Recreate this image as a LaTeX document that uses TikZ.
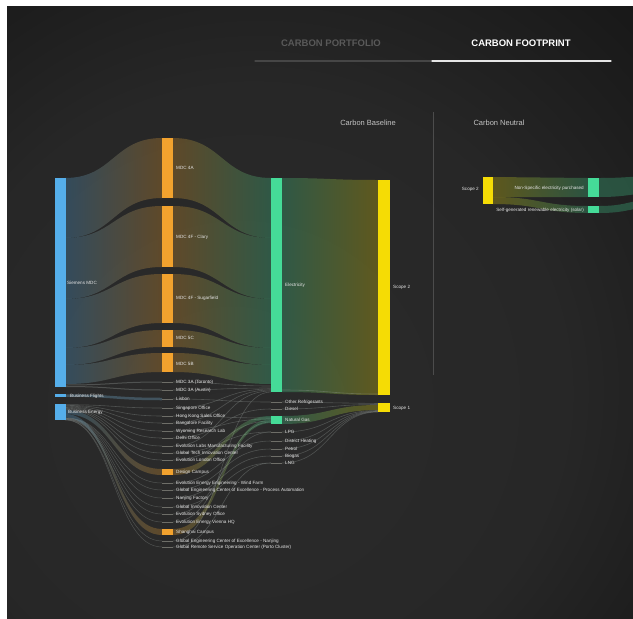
\documentclass[tikz,border=0pt]{standalone}
\usepackage{fontspec}
\setmainfont{Liberation Sans}
\definecolor{bgmid}{HTML}{2B2B2B}
\definecolor{bgdark}{HTML}{101010}
\definecolor{cblue}{HTML}{55AEEA}
\definecolor{corange}{HTML}{F2A22E}
\definecolor{cgreen}{HTML}{45DB98}
\definecolor{cyellow}{HTML}{F5DC05}
\definecolor{labc}{HTML}{E6E6E6}
\definecolor{lnc}{HTML}{A0A8A4}
\definecolor{tickc}{HTML}{6E6E68}
\pgfdeclareradialshading{vign}{\pgfpoint{-8bp}{-10bp}}{color(0bp)=(bgmid); color(25bp)=(bgmid!85!bgdark); color(50bp)=(bgdark); color(75bp)=(bgdark)}
\newcommand\sband[8]{%
 \pgfmathsetmacro\xm{(#1+#4)/2}%
 \shade[left color=#7,right color=#8,fill opacity=0.27] (#1,#2) .. controls (\xm,#2) and (\xm,#5) .. (#4,#5) -- (#4,#6) .. controls (\xm,#6) and (\xm,#3) .. (#1,#3) -- cycle;}
\newcommand\sline[6]{%
 \pgfmathsetmacro\xm{(#1+#3)/2}%
 \draw[#5,line width=#6,opacity=0.32] (#1,#2) .. controls (\xm,#2) and (\xm,#4) .. (#3,#4);}
\begin{document}
\begin{tikzpicture}[x=1pt,y=-1pt,
  bar/.style={draw=none,inner sep=0pt,outer sep=0pt,minimum width=11pt},
  lbl/.style={text=labc,font=\fontsize{4.6}{5.5}\selectfont,inner sep=0pt,anchor=west},
  tickbar/.style={draw=none,fill=tickc,inner sep=0pt,outer sep=0pt,minimum width=11pt,minimum height=1pt},
  hdr/.style={inner sep=0pt,font=\fontsize{9.5}{11}\selectfont\bfseries},
  ttl/.style={inner sep=0pt,text=labc!85!black,font=\fontsize{7.5}{9}\selectfont}]
\useasboundingbox (0,0) rectangle (633,619);
\fill[white] (0,0) rectangle (633,619);
\begin{scope}
\clip (7,6) rectangle (633,619);
\shade[shading=vign] (7,6) rectangle (633,619);

% header
\node[hdr,text=gray!70!black] (tport) at (331,43) {CARBON PORTFOLIO};
\node[hdr,text=white] (tfoot) at (521,43) {CARBON FOOTPRINT};
\coordinate (hl0) at (255,61); \coordinate (hl1) at (432,61); \coordinate (hl2) at (611,61);
\draw[gray!55!black,line width=1.3,line cap=round] (hl0) -- (hl1);
\draw[white!80!gray,line width=1.3,line cap=round] (hl1) -- (hl2);
\node[ttl] (tbase) at (368,123) {Carbon Baseline};
\node[ttl] (tneut) at (499,123) {Carbon Neutral};
\coordinate (sep0) at (433,112); \coordinate (sep1) at (433,375);
\draw[white!25!bgdark,line width=1] (sep0) -- (sep1);

% ---------- bands blue -> orange
\sband{65}{178}{238}{162}{138}{198}{cblue}{corange}
\sband{65}{238}{299}{162}{206}{267}{cblue}{corange}
\sband{65}{299}{348}{162}{274}{323}{cblue}{corange}
\sband{65}{348}{365}{162}{330}{347}{cblue}{corange}
\sband{65}{365}{384}{162}{353}{372}{cblue}{corange}
% orange -> green
\sband{173}{138}{198}{271}{178}{238}{corange}{cgreen}
\sband{173}{206}{267}{271}{238}{299}{corange}{cgreen}
\sband{173}{274}{323}{271}{299}{348}{corange}{cgreen}
\sband{173}{330}{347}{271}{348}{365}{corange}{cgreen}
\sband{173}{353}{372}{271}{365}{384}{corange}{cgreen}
% green -> yellow
\sband{282}{178}{392}{378}{180}{395}{cgreen}{cyellow}
% small flows
\sline{65}{385}{162}{382}{lnc}{1}
\sline{65}{386.5}{162}{390}{lnc}{1}
\sline{65}{395.5}{162}{399}{cblue!60!lnc}{2.5}
\foreach \ry [count=\k] in {408,416,423,431,438,446,453,460}
  {\sline{65}{404+\k*0.7}{162}{\ry}{lnc}{0.6}}
\foreach \ry [count=\k] in {483,490,498,507,514,522,541,547}
  {\sline{65}{417.6+\k*0.3}{162}{\ry}{lnc}{0.5}}
\sband{65}{410}{414}{162}{469}{475}{cblue}{corange}
\sband{65}{414}{417.5}{162}{529}{535}{cblue}{corange}
\foreach \ry/\gy in {382/386,390/388,399/402,408/389,416/418,423/390,431/419,438/409,446/391,453/432,460/421,483/441,490/449,498/456,507/463,514/432,522/422,541/392,547/463}
  {\sline{173}{\ry}{271}{\gy}{lnc}{0.6}}
\sband{173}{469}{475}{271}{416}{419.5}{corange}{cgreen}
\sband{173}{529}{535}{271}{419.5}{423}{corange}{cgreen}
\foreach \gy/\sy in {402/403.5,409/404.5,432/410.5,441/411,449/411.4,456/411.7,463/412}
  {\sline{282}{\gy}{378}{\sy}{lnc}{0.6}}
\sband{282}{416}{424}{378}{405}{410}{cgreen}{cyellow}
\sline{282}{390}{378}{394}{lnc}{0.6}

% right part
\sband{493}{177}{197}{588}{178}{197}{cyellow}{cgreen}
\sband{493}{197}{204}{588}{206}{213}{cyellow}{cgreen}
\sband{599}{178}{197}{660}{176}{193}{cgreen}{cgreen}
\sband{599}{206}{213}{660}{199}{207}{cgreen}{cgreen}

% ---------- bars
\node[bar,fill=cblue,minimum height=209pt] (bS) at (60,282.5) {};
\node[bar,fill=cblue,minimum height=2.5pt] (bF) at (60,395.5) {};
\node[bar,fill=cblue,minimum height=16pt] (bE) at (60,412) {};
\node[bar,fill=corange,minimum height=60pt] (oA) at (167.5,168) {};
\node[bar,fill=corange,minimum height=61pt] (oB) at (167.5,236.5) {};
\node[bar,fill=corange,minimum height=49pt] (oC) at (167.5,298.5) {};
\node[bar,fill=corange,minimum height=17pt] (oD) at (167.5,338.5) {};
\node[bar,fill=corange,minimum height=19pt] (oE) at (167.5,362.5) {};
\node[bar,fill=corange,minimum height=6pt] (o1) at (167.5,472) {};
\node[bar,fill=corange,minimum height=6pt] (o2) at (167.5,532) {};
\node[bar,fill=cgreen,minimum height=214pt] (gE) at (276.5,285) {};
\node[bar,fill=cgreen,minimum height=8pt] (gN) at (276.5,420) {};
\node[bar,fill=cyellow,minimum height=215pt,minimum width=12pt] (yS2) at (384,287.5) {};
\node[bar,fill=cyellow,minimum height=9pt,minimum width=12pt] (yS1) at (384,407.5) {};
\node[bar,fill=cyellow,minimum height=27pt,minimum width=10pt] (yR) at (488,190.5) {};
\node[bar,fill=cgreen,minimum height=19pt] (gR1) at (593.5,187.5) {};
\node[bar,fill=cgreen,minimum height=7pt] (gR2) at (593.5,209.5) {};

% tick bars for minor nodes
\foreach \ry [count=\k] in {382,390,399,408,416,423,431,438,446,453,460,483,490,498,507,514,522,541,547}
  {\node[tickbar] (t\k) at (167.5,\ry) {};}
\foreach \gy [count=\k] in {402,409,432,441,449,456,463}
  {\node[tickbar] (gt\k) at (276.5,\gy) {};}

% ---------- labels
\node[lbl] (lbS) at (67,283) {Siemens MDC};
\node[lbl] (lbF) at (70,396) {Business Flights};
\node[lbl] (lbE) at (68,412) {Business Energy};
\node[lbl] (loA) at (176,168) {MDC 4A};
\node[lbl] (loB) at (176,237) {MDC 4F - Clary};
\node[lbl] (loC) at (176,298) {MDC 4F - Sugarfield};
\node[lbl] (loD) at (176,338) {MDC 5C};
\node[lbl] (loE) at (176,364) {MDC 5B};
\node[lbl] (lo1) at (176,472) {Design Campus};
\node[lbl] (lo2) at (176,532) {Shanghai Campus};
\foreach \ry/\tx [count=\k] in {382/MDC 3A (Toronto),390/MDC 3A (Austin),399/Lisbon,408/Singapore Office,416/Hong Kong Sales Office,423/Bangalore Facility,431/Wyoming Research Lab,438/Delhi Office,446/Evolution Labs Manufacturing Facility,453/Global Tech Innovation Center,460/Evolution London Office,483/Evolution Energy Engineering - Wind Farm,490/Global Engineering Center of Excellence - Process Automation,498/Nanjing Factory,507/Global Innovation Center,514/Evolution Sydney Office,522/Evolution Energy Vienna HQ,541/Global Engineering Center of Excellence - Nanjing,547/Global Remote Service Operation Center (Porto Cluster)}
  {\node[lbl] (lr\k) at (176,\ry) {\tx};}
\node[lbl] (lgE) at (285,285) {Electricity};
\node[lbl] (lgN) at (285,420) {Natural Gas};
\foreach \gy/\tx [count=\k] in {402/Other Refrigerants,409/Diesel,432/LPG,441/District Heating,449/Petrol,456/Biogas,463/LNG}
  {\node[lbl] (lg\k) at (285,\gy) {\tx};}
\node[lbl] (lyS2) at (393,287) {Scope 2};
\node[lbl] (lyS1) at (393,408) {Scope 1};
\node[lbl,anchor=east] (lyR) at (479,189) {Scope 2};
\node[lbl,anchor=east] (lgR1) at (584,188) {Non-Specific electricity purchased};
\node[lbl,anchor=east] (lgR2) at (584,210) {Self-generated renewable electricity (solar)};
\end{scope}
\end{tikzpicture}
\end{document}
